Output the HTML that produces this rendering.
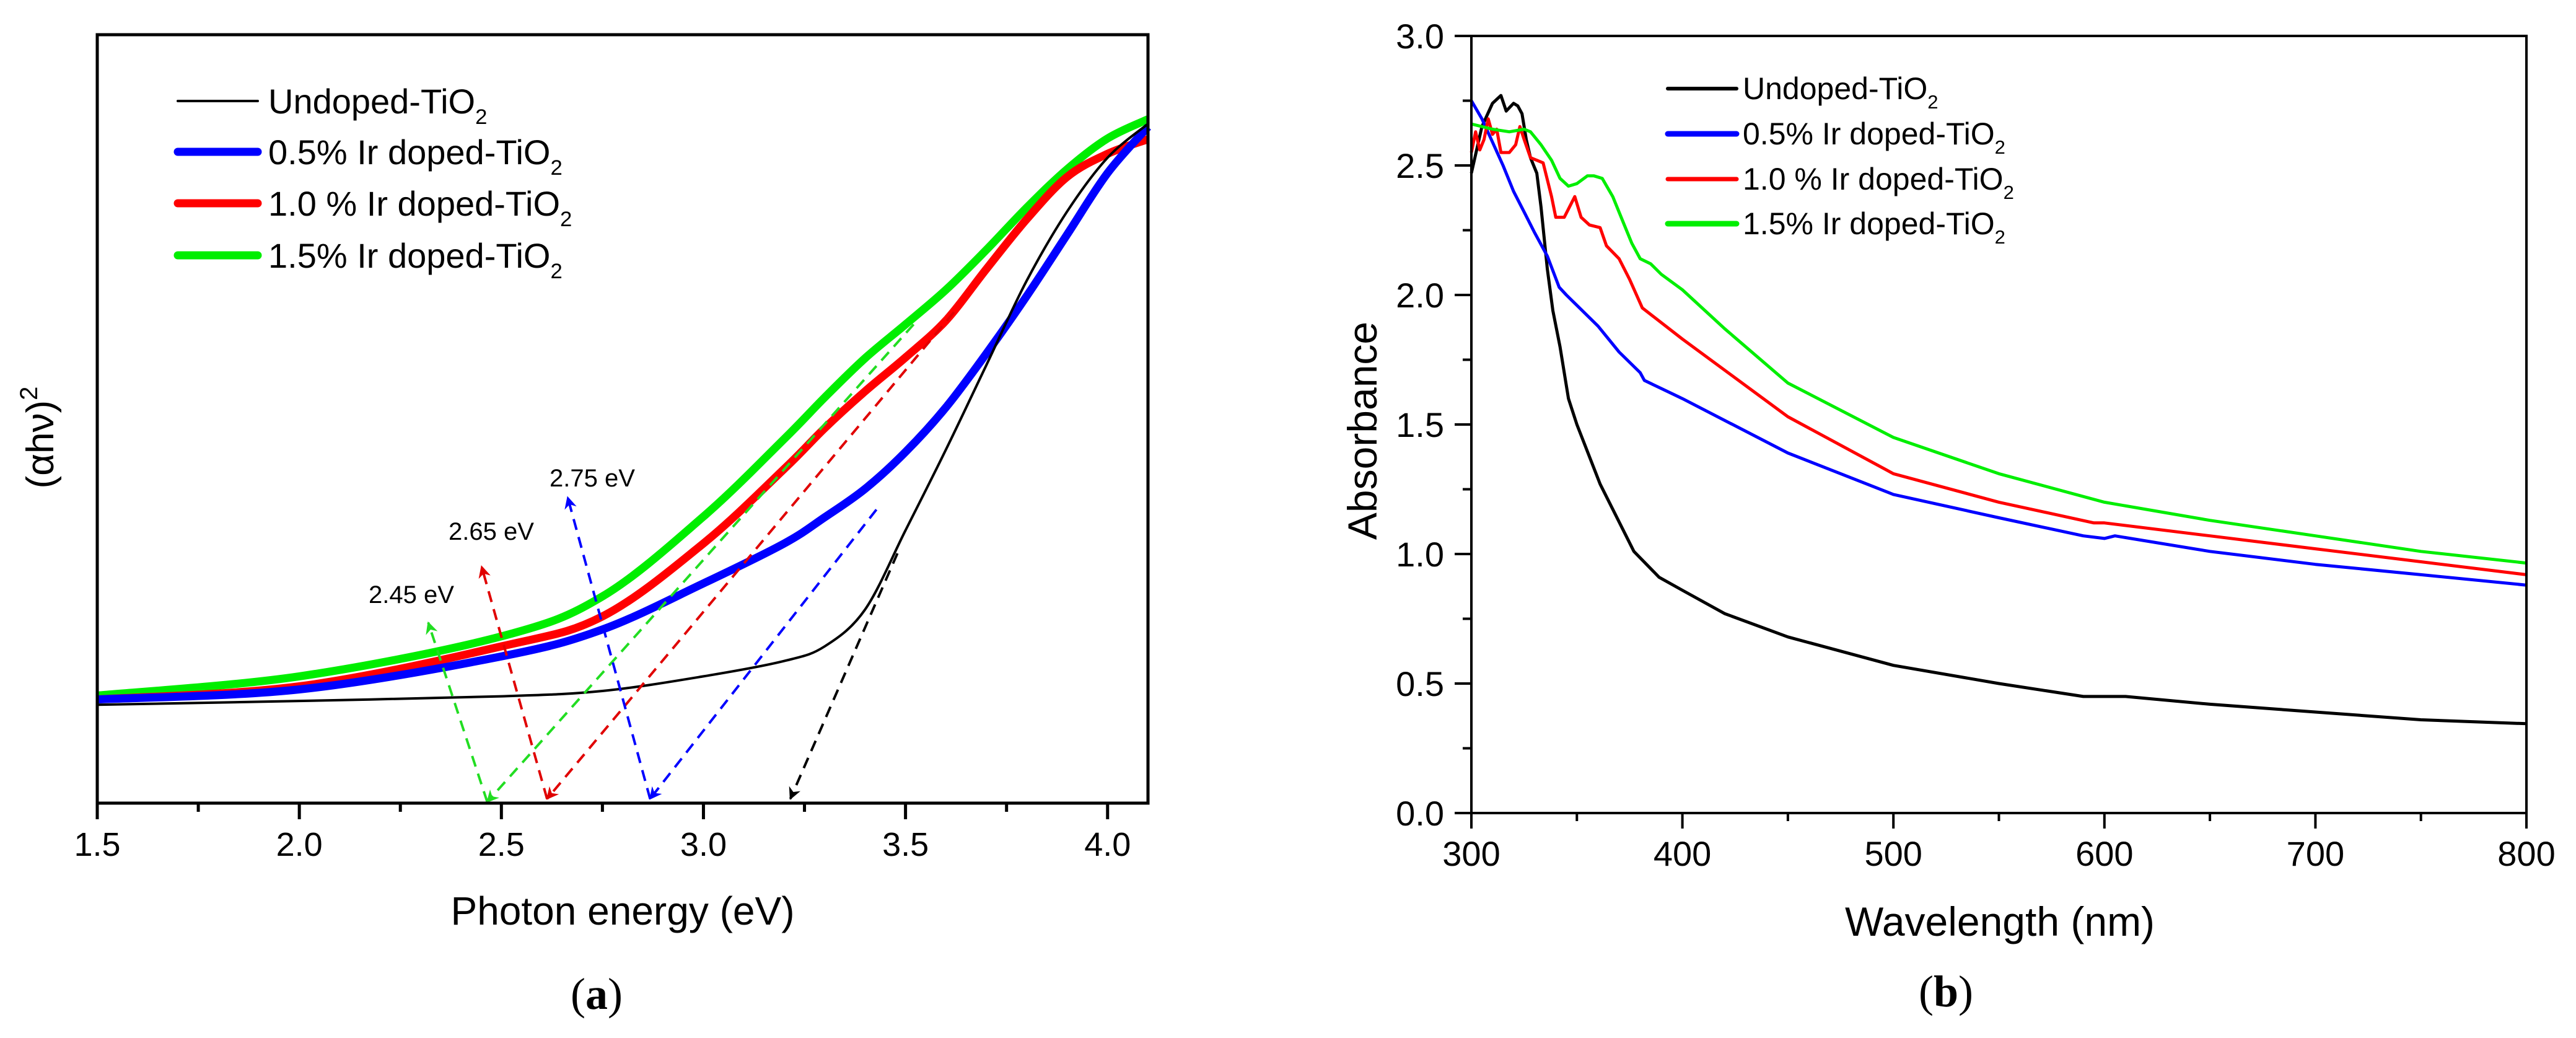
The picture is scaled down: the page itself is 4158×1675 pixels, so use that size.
<!DOCTYPE html>
<html><head><meta charset="utf-8"><style>
html,body{margin:0;padding:0;background:#fff;}
svg{display:block;font-family:"Liberation Sans",Arial,sans-serif;}
</style></head><body>
<svg id="fig" xmlns="http://www.w3.org/2000/svg" width="4158" height="1675" viewBox="0 0 4158 1675">
<rect x="0" y="0" width="4158" height="1675" fill="#fff"/>
<g id="pa"></g>
<g id="pb"></g>
</svg>
<script>
// ---------- Panel (a) data ----------
const aX = [1.5,2.0,2.5,2.75,3.0,3.2,3.3,3.4,3.5,3.6,3.7,3.8,3.9,4.0,4.1];
const aUndoped = [12.8,13.3,13.9,14.6,16.5,18.5,20.4,25.2,35.5,46,57,68,77,84,88.4];
const aIr05 = [13.5,14.8,19.1,22.6,28.6,33.8,37.2,40.9,45.7,51.5,58.5,66,74,82,88];
const aIr10 = [13.5,15.2,20.4,24.3,33.8,43.5,48.8,53.6,58,62.8,69.5,76,81.5,84.5,86.4];
const aIr15 = [14,16.5,21.7,26.9,37.3,47.4,52.8,57.9,62.3,66.8,72,77.5,82.5,86.5,89];
const aTicks = [1.5,2.0,2.5,3.0,3.5,4.0];
const aTickLabels = ["1.5","2.0","2.5","3.0","3.5","4.0"];
// dashed tangent arrows: [x0,y0,x1,y1] in data units
const aDashBlack = [3.215,0.56,3.48,32.5];
const aDashBlue = [2.868,0.56,3.428,38.2];
const aDashBlueUp = [2.868,0.56,2.664,39.8];
const aDashRed = [2.613,0.56,3.62,63.9];
const aDashRedUp = [2.613,0.56,2.451,30.8];
const aDashGreen = [2.465,0.16,3.52,62.3];
const aDashGreenUp = [2.465,0.16,2.319,23.5];
const aGapLabels = ["2.75 eV","2.65 eV","2.45 eV"];

// ---------- Panel (b) data ----------
const bBlackX = [300,305,310,314,316.5,320,322,324,326,328,331,333,336,338.6,342,346,350,361,377,389,400,420,450,500,550,590,600,610,650,700,750,800];
const bBlackY = [2.47,2.65,2.74,2.77,2.71,2.74,2.73,2.7,2.6,2.53,2.47,2.34,2.1,1.94,1.8,1.6,1.5,1.27,1.01,0.91,0.86,0.77,0.68,0.57,0.5,0.45,0.45,0.45,0.42,0.39,0.36,0.345];
const bBlueX = [300,305,310,315,320,325,330,336,341.6,345,360,370,380,382,400,450,500,550,590,600,605,650,700,750,800];
const bBlueY = [2.75,2.68,2.59,2.5,2.4,2.32,2.24,2.15,2.03,2.0,1.88,1.78,1.7,1.67,1.6,1.39,1.23,1.14,1.07,1.06,1.07,1.01,0.96,0.92,0.88];
const bRedX = [300,302,304,306,308,310,312,314,318,321,323,325,328,331,334,338,340,344,349,352,356,361,364,370,375,381,400,450,500,550,595,600,650,700,750,800];
const bRedY = [2.55,2.63,2.56,2.6,2.68,2.62,2.64,2.55,2.55,2.58,2.65,2.6,2.53,2.52,2.51,2.38,2.3,2.3,2.38,2.3,2.27,2.26,2.19,2.14,2.06,1.95,1.83,1.53,1.31,1.2,1.12,1.12,1.07,1.02,0.97,0.92];
const bGreenX = [300,310,318,325,328,333,338,342,346,350,355,358,362,367,372,376,380,385,390,400,420,450,500,550,600,650,700,750,800];
const bGreenY = [2.66,2.64,2.63,2.64,2.63,2.58,2.52,2.45,2.42,2.43,2.46,2.46,2.45,2.38,2.28,2.2,2.14,2.12,2.08,2.02,1.87,1.66,1.45,1.31,1.2,1.13,1.07,1.01,0.965];
const bXTicks = [300,400,500,600,700,800];
const bYTicks = [0,0.5,1.0,1.5,2.0,2.5,3.0];
const bYTickLabels = ["0.0","0.5","1.0","1.5","2.0","2.5","3.0"];

const NS = "http://www.w3.org/2000/svg";
function mk(parent, tag, attrs, text){
  const e = document.createElementNS(NS, tag);
  for (const k in attrs) e.setAttribute(k, attrs[k]);
  if (text !== undefined) e.textContent = text;
  parent.appendChild(e);
  return e;
}
function smoothPath(pts){
  let d = "M" + pts[0][0].toFixed(1) + "," + pts[0][1].toFixed(1);
  for (let i = 0; i < pts.length - 1; i++){
    const p0 = pts[Math.max(0,i-1)], p1 = pts[i], p2 = pts[i+1], p3 = pts[Math.min(pts.length-1,i+2)];
    const c1x = p1[0] + (p2[0]-p0[0])/6, c1y = p1[1] + (p2[1]-p0[1])/6;
    const c2x = p2[0] - (p3[0]-p1[0])/6, c2y = p2[1] - (p3[1]-p1[1])/6;
    d += " C" + c1x.toFixed(1)+","+c1y.toFixed(1)+" "+c2x.toFixed(1)+","+c2y.toFixed(1)+" "+p2[0].toFixed(1)+","+p2[1].toFixed(1);
  }
  return d;
}
function legendText(g, x, y, size, main){
  const t = mk(g, "text", {x:x, y:y, "font-size":size, fill:"#000"});
  const s1 = document.createElementNS(NS, "tspan"); s1.textContent = main; t.appendChild(s1);
  const s2 = document.createElementNS(NS, "tspan"); s2.textContent = "2";
  s2.setAttribute("font-size", size*0.62); s2.setAttribute("dy", size*0.3); t.appendChild(s2);
  return t;
}

// ================= Panel A =================
(function(){
  const g = document.getElementById("pa");
  const L=157, R=1853, T=56, B=1296;
  const xs = v => L + (v-1.5)/(4.1-1.5)*(R-L);
  const ys = v => B - v/100*(B-T);
  const defs = mk(g, "defs", {});
  function marker(id, color){
    const m = mk(defs, "marker", {id:id, viewBox:"0 0 10 10", refX:"9", refY:"5", markerWidth:"5", markerHeight:"5", orient:"auto", markerUnits:"strokeWidth"});
    mk(m, "path", {d:"M0,0 L10,5 L0,10 L3,5 Z", fill:color});
  }
  marker("ak","#000"); marker("ab","#0000ff"); marker("ar","#e00000"); marker("ag","#22dd22");

  const series = [
    {y:aIr05, c:"#0000ff", w:13, n:"curve-0.5pct-ir"},
    {y:aIr10, c:"#ff0000", w:13, n:"curve-1.0pct-ir"},
    {y:aIr15, c:"#00ee00", w:13, n:"curve-1.5pct-ir"},
    {y:aUndoped, c:"#000", w:4, n:"curve-undoped"}
  ];
  const order = [2,1,0,3];
  order.forEach(i=>{
    const s = series[i];
    const pts = aX.map((x,j)=>[xs(x), ys(s.y[j])]);
    const p = mk(g, "path", {d:smoothPath(pts), fill:"none", stroke:s.c, "stroke-width":s.w, "stroke-linejoin":"round"});
    
    
  });

  const dashes = [
    {a:aDashGreen, c:"#22dd22", m:"ag", n:"tangent-green", start:true},
    {a:aDashGreenUp, c:"#22dd22", m:"ag", n:"arrow-green-up"},
    {a:aDashRed, c:"#e00000", m:"ar", n:"tangent-red", start:true},
    {a:aDashRedUp, c:"#e00000", m:"ar", n:"arrow-red-up"},
    {a:aDashBlue, c:"#0000ff", m:"ab", n:"tangent-blue", start:true},
    {a:aDashBlueUp, c:"#0000ff", m:"ab", n:"arrow-blue-up"},
    {a:aDashBlack, c:"#000", m:"ak", n:"tangent-black", start:true}
  ];
  dashes.forEach(d=>{
    let x0=xs(d.a[0]), y0=ys(d.a[1]), x1=xs(d.a[2]), y1=ys(d.a[3]);
    const attrs = {x1:x0, y1:y0, x2:x1, y2:y1, stroke:d.c, "stroke-width":4, "stroke-dasharray":"18,12"};
    if (d.start) { attrs.x1 = x1; attrs.y1 = y1; attrs.x2 = x0; attrs.y2 = y0; }
    attrs["marker-end"] = "url(#"+d.m+")";
    const l = mk(g, "line", attrs);
    
    
  });
  const labPos = [[956,785],[793,871],[664,973]];
  aGapLabels.forEach((t,i)=>{
    const e = mk(g, "text", {x:labPos[i][0], y:labPos[i][1], "font-size":40, "text-anchor":"middle", fill:"#000"}, t);
    
    
  });

  const fr = mk(g, "rect", {x:L, y:T, width:R-L, height:B-T, fill:"none", stroke:"#000", "stroke-width":5});
  
  
  for (let v=1.5; v<=4.101; v+=0.25){
    const major = Math.abs((v*2)-Math.round(v*2))<1e-6;
    mk(g, "line", {x1:xs(v), y1:B, x2:xs(v), y2:B+(major?26:14), stroke:"#000", "stroke-width":5});
  }
  aTicks.forEach((v,i)=>{
    const e = mk(g, "text", {x:xs(v), y:1381, "font-size":54, "text-anchor":"middle", fill:"#000"}, aTickLabels[i]);
    
    
  });
  const xt = mk(g, "text", {x:1005, y:1492, "font-size":64, "text-anchor":"middle", fill:"#000"}, "Photon energy (eV)");
  
  
  const yt = mk(g, "text", {x:0, y:0, "font-size":62, "text-anchor":"middle", fill:"#000", transform:"translate(86,706) rotate(-90)"});
  yt.innerHTML = '(αhν)<tspan font-size="40" dy="-26">2</tspan>';
  
  
  const cap = mk(g, "text", {x:963, y:1628, "font-size":72, "text-anchor":"middle", fill:"#000", "font-family":"Liberation Serif, serif"});
  cap.innerHTML = '(<tspan font-weight="bold">a</tspan>)';
  
  

  const leg = mk(g, "g", {});
  
  
  const items = [["#000",4,"Undoped-TiO"],["#0000ff",13,"0.5% Ir doped-TiO"],["#ff0000",13,"1.0 % Ir doped-TiO"],["#00ee00",13,"1.5% Ir doped-TiO"]];
  const ly = [163,245,328,412];
  items.forEach((it,i)=>{
    const le = mk(leg, "g", {});
    
    
    mk(le, "line", {x1:287, y1:ly[i], x2:416, y2:ly[i], stroke:it[0], "stroke-width":it[1], "stroke-linecap":"round"});
    legendText(le, 433, ly[i]+20, 56, it[2]);
  });
})();

// ================= Panel B =================
(function(){
  const g = document.getElementById("pb");
  const L=2375, R=4078, T=58, B=1312;
  const xs = v => L + (v-300)/500*(R-L);
  const ys = v => B - v/3*(B-T);
  const series = [
    {x:bBlackX, y:bBlackY, c:"#000", n:"curve-undoped-b"},
    {x:bBlueX, y:bBlueY, c:"#0000ff", n:"curve-0.5pct-ir-b"},
    {x:bRedX, y:bRedY, c:"#ff0000", n:"curve-1.0pct-ir-b"},
    {x:bGreenX, y:bGreenY, c:"#00ee00", n:"curve-1.5pct-ir-b"}
  ];
  series.forEach(s=>{
    const pts = s.x.map((x,j)=>xs(x).toFixed(1)+","+ys(s.y[j]).toFixed(1)).join(" ");
    const p = mk(g, "polyline", {points:pts, fill:"none", stroke:s.c, "stroke-width":5, "stroke-linejoin":"round"});
    
    
  });
  const fr = mk(g, "rect", {x:L, y:T, width:R-L, height:B-T, fill:"none", stroke:"#000", "stroke-width":4});
  
  
  for (let v=300; v<=800; v+=50){
    const major = v%100===0;
    mk(g, "line", {x1:xs(v), y1:B, x2:xs(v), y2:B+(major?25:13), stroke:"#000", "stroke-width":4});
  }
  for (let v=0; v<=3.001; v+=0.25){
    const major = Math.abs(v*2-Math.round(v*2))<1e-6;
    mk(g, "line", {x1:L, y1:ys(v), x2:L-(major?27:14), y2:ys(v), stroke:"#000", "stroke-width":4});
  }
  bXTicks.forEach(v=>{
    const e = mk(g, "text", {x:xs(v), y:1397, "font-size":56, "text-anchor":"middle", fill:"#000"}, String(v));
    
    
  });
  bYTicks.forEach((v,i)=>{
    const e = mk(g, "text", {x:2331, y:ys(v)+20, "font-size":56, "text-anchor":"end", fill:"#000"}, bYTickLabels[i]);
    
    
  });
  const xt = mk(g, "text", {x:3228, y:1510, "font-size":66, "text-anchor":"middle", fill:"#000"}, "Wavelength (nm)");
  
  
  const yt = mk(g, "text", {x:0, y:0, "font-size":66, "text-anchor":"middle", fill:"#000", transform:"translate(2222,695) rotate(-90)"}, "Absorbance");
  
  
  const cap = mk(g, "text", {x:3141, y:1624, "font-size":72, "text-anchor":"middle", fill:"#000", "font-family":"Liberation Serif, serif"});
  cap.innerHTML = '(<tspan font-weight="bold">b</tspan>)';
  
  

  const leg = mk(g, "g", {});
  
  
  const items = [["#000",6,"Undoped-TiO"],["#0000ff",9,"0.5% Ir doped-TiO"],["#ff0000",7,"1.0 % Ir doped-TiO"],["#00ee00",9,"1.5% Ir doped-TiO"]];
  const ly = [143,216,289,361];
  items.forEach((it,i)=>{
    const le = mk(leg, "g", {});
    
    
    mk(le, "line", {x1:2692, y1:ly[i], x2:2803, y2:ly[i], stroke:it[0], "stroke-width":it[1], "stroke-linecap":"round"});
    legendText(le, 2813, ly[i]+17, 50, it[2]);
  });
})();
</script>
</body></html>
